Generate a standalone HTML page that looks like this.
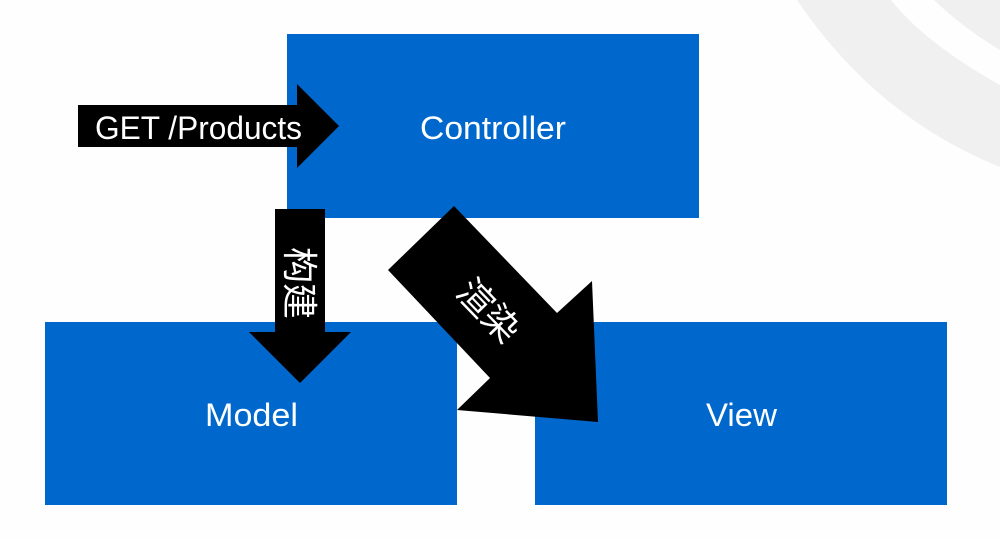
<!DOCTYPE html>
<html lang="zh">
<head>
<meta charset="utf-8">
<title>MVC</title>
<style>
html,body{margin:0;padding:0;background:#fefefe;}
svg{display:block;}
text{font-family:"Liberation Sans","Noto Sans CJK SC",sans-serif;fill:#fff;}
.cjk{font-family:"Noto Sans CJK SC","WenQuanYi Zen Hei",sans-serif;font-weight:400;font-size:36px;}
</style>
</head>
<body>
<svg width="1000" height="540" viewBox="0 0 1000 540" xmlns="http://www.w3.org/2000/svg">
  <rect width="1000" height="540" fill="#fefefe"/>
  <path d="M797 0 Q875.5 116.5 1000 167 L1000 85 Q925 43 891 0 Z" fill="#f0f0f0"/>
  <path d="M934 0 Q962 27 1000 50 L1000 0 Z" fill="#f0f0f0"/>

  <rect x="287" y="34" width="412" height="184" fill="#0068cc"/>
  <rect x="45" y="322" width="412" height="183" fill="#0068cc"/>
  <rect x="535" y="322" width="412" height="183" fill="#0068cc"/>

  <polygon points="78,105 297,105 297,84 339,126 297,168 297,147 78,147" fill="#000"/>
  <polygon points="275,209 325,209 325,332 351,332 300,383 249,332 275,332" fill="#000"/>
  <polygon points="454,206 557,313 592,281 598,422 457,410 490,378 388,270" fill="#000"/>

  <text x="420" y="139" font-size="32" textLength="146" lengthAdjust="spacingAndGlyphs">Controller</text>
  <text x="95" y="139" font-size="32" textLength="207" lengthAdjust="spacingAndGlyphs">GET /Products</text>
  <text x="205" y="426" font-size="32" textLength="93" lengthAdjust="spacingAndGlyphs">Model</text>
  <text x="706" y="426" font-size="32" textLength="71" lengthAdjust="spacingAndGlyphs">View</text>

  <text class="cjk" transform="translate(299 283) rotate(90)" text-anchor="middle" y="12">构建</text>
  <text class="cjk" transform="translate(488 311) rotate(46)" text-anchor="middle" y="12">渲染</text>
</svg>
</body>
</html>
